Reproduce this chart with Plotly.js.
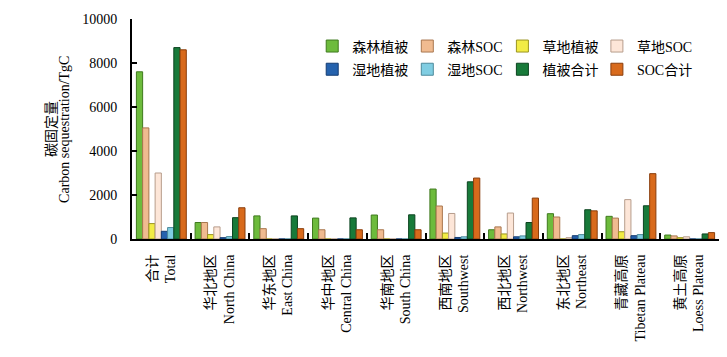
<!DOCTYPE html>
<html>
<head>
<meta charset="utf-8">
<script src="https://cdn.plot.ly/plotly-3.0.1.min.js"></script>
<style>body{margin:0;padding:0;background:#fff}#chart{width:727px;height:357px}</style>
</head>
<body>
<div id="chart"></div>
<script>
var categories = ['合计<br>Total','华北地区<br>North China','华东地区<br>East China','华中地区<br>Central China','华南地区<br>South China','西南地区<br>Southwest','西北地区<br>Northwest','东北地区<br>Northeast','青藏高原<br>Tibetan Plateau','黄土高原<br>Loess Plateau'];
var seriesNames = ['森林植被','森林SOC','草地植被','草地SOC','湿地植被','湿地SOC','植被合计','SOC合计'];
var forestVeg   = [7600, 750, 1050, 950, 1090, 2270, 420, 1150, 1030, 180];
var forestSOC   = [5050, 750, 470, 420, 420, 1500, 550, 1000, 950, 140];
var grassVeg    = [700, 200, 0, 0, 0, 270, 230, 0, 330, 60];
var grassSOC    = [3000, 550, 0, 0, 0, 1160, 1180, 60, 1790, 100];
var wetVeg      = [350, 60, 0, 0, 0, 70, 100, 150, 150, 0];
var wetSOC      = [520, 110, 0, 0, 0, 100, 140, 200, 200, 0];
var vegTotal    = [8700, 970, 1050, 960, 1100, 2600, 750, 1330, 1510, 230];
var socTotal    = [8600, 1420, 470, 420, 420, 2770, 1860, 1280, 2970, 290];
var yTicks      = [0, 2000, 4000, 6000, 8000, 10000];
var yTitleCN    = '碳固定量';
var yTitleEN    = 'Carbon sequestration/TgC';

var allSeries = [forestVeg, forestSOC, grassVeg, grassSOC, wetVeg, wetSOC, vegTotal, socTotal];
var fills = ['#6dbb3c','#f0bb90','#f2ec45','#fde6d8','#2562ad','#80cde2','#187a3a','#d86a1c'];
var lines = ['#3f7a1e','#a9774f','#9a9420','#b79d8c','#143c72','#4d8a9c','#0c4420','#8a3e0c'];
var legendIds = ['legend','legend2','legend3','legend4','legend','legend2','legend3','legend4'];

var traces = allSeries.map(function(vals, i){
  return {
    type: 'bar',
    name: seriesNames[i],
    x: categories,
    y: vals,
    legend: legendIds[i],
    legendgroup: 'g' + i,
    marker: {color: fills[i], line: {color: lines[i], width: 1}}
  };
});

function leg(x){
  return {orientation: 'v', x: x, y: 0.948, xanchor: 'left', yanchor: 'top',
    font: {size: 14}, bgcolor: 'rgba(0,0,0,0)', tracegroupgap: 2};
}

var layout = {
  width: 727, height: 357,
  margin: {l: 132, r: 8, t: 19, b: 118},
  paper_bgcolor: '#fff', plot_bgcolor: '#fff',
  font: {family: '"Liberation Serif", "Noto Sans CJK SC", serif', color: '#000', size: 14},
  barmode: 'group',
  bargap: 0.15,
  bargroupgap: 0,
  showlegend: true,
  legend: leg(0.307),
  legend2: leg(0.469),
  legend3: leg(0.631),
  legend4: leg(0.792),
  xaxis: {
    type: 'category',
    tickangle: -90,
    showline: true, linecolor: '#000', linewidth: 2,
    ticks: 'inside', ticklen: 6, tickwidth: 2, tickcolor: '#000',
    tickson: 'boundaries',
    ticklabelstandoff: 8,
    showgrid: false, zeroline: false,
    tickfont: {size: 14}
  },
  yaxis: {
    range: [0, 10000],
    tickvals: yTicks,
    tickformat: 'd',
    showline: true, linecolor: '#000', linewidth: 2,
    ticks: 'inside', ticklen: 5, tickwidth: 2, tickcolor: '#000',
    ticklabelstandoff: 10,
    showgrid: false, zeroline: false,
    tickfont: {size: 14}
  },
  annotations: [
    {text: yTitleCN, xref: 'paper', yref: 'paper', x: -0.138, y: 0.5, xanchor: 'center', yanchor: 'middle',
     textangle: -90, showarrow: false, font: {size: 14}},
    {text: yTitleEN, xref: 'paper', yref: 'paper', x: -0.116, y: 0.5, xanchor: 'center', yanchor: 'middle',
     textangle: -90, showarrow: false, font: {size: 14}}
  ]
};

Plotly.newPlot('chart', traces, layout, {displayModeBar: false, staticPlot: true});
</script>
</body>
</html>
